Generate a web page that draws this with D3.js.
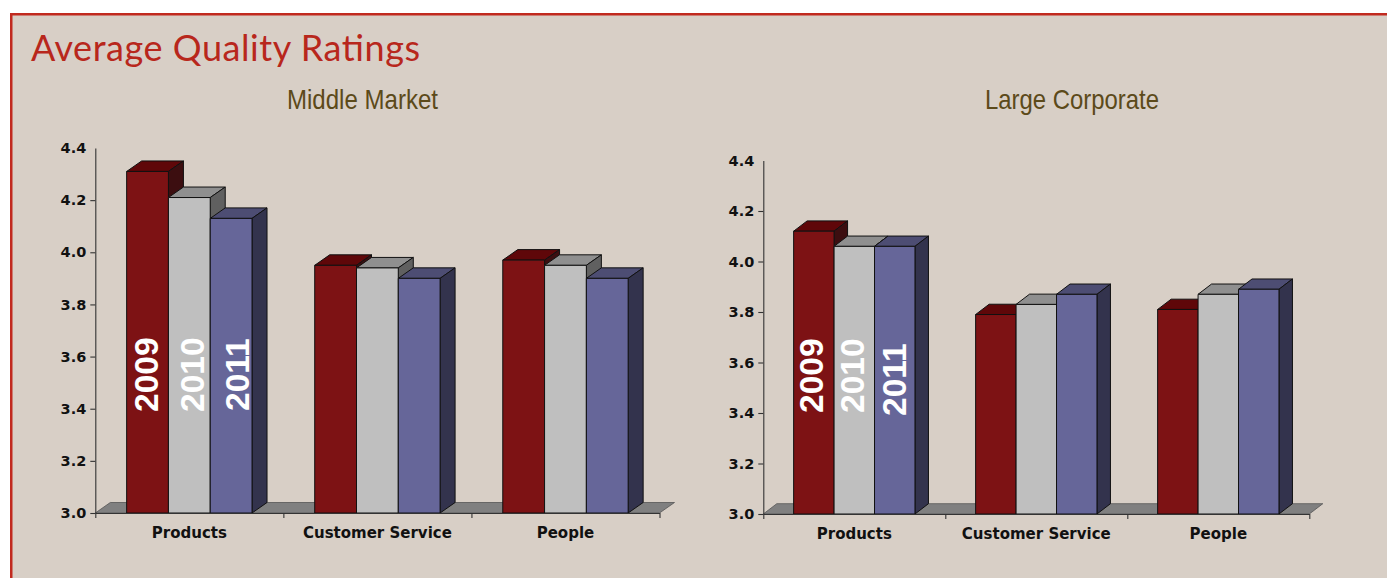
<!DOCTYPE html>
<html>
<head>
<meta charset="utf-8">
<title>Average Quality Ratings</title>
<script src="https://cdn.jsdelivr.net/npm/d3@7/dist/d3.min.js"></script>
<style>
  html, body { margin: 0; padding: 0; background: #fff; }
  svg { display: block; }
</style>
</head>
<body>
<svg id="chart" width="1387" height="578"></svg>
<script>
// Ratings by customer category and survey year
const categories = ["Products", "Customer Service", "People"];
const years = ["2009", "2010", "2011"];
const middleMarket = [
  [4.31, 4.21, 4.13],
  [3.95, 3.94, 3.90],
  [3.97, 3.95, 3.90]
];
const largeCorporate = [
  [4.12, 4.06, 4.06],
  [3.79, 3.83, 3.87],
  [3.81, 3.87, 3.89]
];
const yTicks = [3.0, 3.2, 3.4, 3.6, 3.8, 4.0, 4.2, 4.4];

// Front, top and side shades per year
const palette = [
  { front: "#7d1214", top: "#5f0709", side: "#3c0e10" },
  { front: "#bfbfbf", top: "#8f8f8f", side: "#606060" },
  { front: "#666699", top: "#4d4d73", side: "#33334d" }
];

const svg = d3.select("#chart");

// Panel background with a red rule along the top and left
svg.append("rect").attr("x", 11).attr("y", 14).attr("width", 1376).attr("height", 564)
  .attr("fill", "#d8cfc6");
svg.append("path").attr("d", "M11.25,578V14.25H1387")
  .attr("fill", "none").attr("stroke", "#c12a1f").attr("stroke-width", 2.5);

svg.append("text").attr("x", 31).attr("y", 61)
  .attr("font-family", "Lato, sans-serif").attr("font-size", 36)
  .attr("textLength", 389).attr("lengthAdjust", "spacing").attr("fill", "#b8271c")
  .text("Average Quality Ratings");

function drawPanel(o) {
  const g = svg.append("g");

  // Condensed subtitle
  g.append("text").attr("x", o.titleX).attr("y", 109)
    .attr("text-anchor", "middle")
    .attr("font-family", "'Liberation Sans', sans-serif")
    .attr("font-size", 28).attr("fill", "#5c4a1a")
    .attr("textLength", o.titleWidth).attr("lengthAdjust", "spacingAndGlyphs")
    .text(o.title);

  const y = d3.scaleLinear().domain([3, 4.4]).range([o.bottom, o.top]);
  const x = d3.scaleBand().domain(categories).range([o.left, o.right]);
  const inner = d3.scaleBand().domain(d3.range(years.length))
    .range([x.bandwidth() / 6, x.bandwidth() * 5 / 6]);
  const w = inner.bandwidth();
  const { dx, dy } = o;

  // Floor slab behind the bars
  g.append("path")
    .attr("d", d3.line()([[o.left, o.bottom], [o.left + dx, o.bottom - dy],
      [o.right + dx, o.bottom - dy], [o.right, o.bottom]]) + "Z")
    .attr("fill", "#808080").attr("stroke", "#555").attr("stroke-width", 0.8);

  // Bars: sides and tops first, then the front, so each year overlaps the previous one
  const bars = o.values.flatMap((row, c) =>
    row.map((v, s) => ({ c, s, v })));
  const bar = g.selectAll("g.bar").data(bars).join("g").attr("class", "bar")
    .attr("stroke", "#111").attr("stroke-width", 1).attr("stroke-linejoin", "round");
  const bx = d => x(categories[d.c]) + inner(d.s);

  bar.append("path")
    .attr("fill", d => palette[d.s].top)
    .attr("d", d => d3.line()([[bx(d), y(d.v)], [bx(d) + dx, y(d.v) - dy],
      [bx(d) + w + dx, y(d.v) - dy], [bx(d) + w, y(d.v)]]) + "Z");
  bar.append("path")
    .attr("fill", d => palette[d.s].side)
    .attr("d", d => d3.line()([[bx(d) + w, y(d.v)], [bx(d) + w + dx, y(d.v) - dy],
      [bx(d) + w + dx, y(3) - dy], [bx(d) + w, y(3)]]) + "Z");
  bar.append("rect")
    .attr("fill", d => palette[d.s].front)
    .attr("x", bx).attr("y", d => y(d.v))
    .attr("width", w).attr("height", d => y(3) - y(d.v));

  // Value axis; the topmost value has a label but no tick mark
  const yAxis = g.append("g").attr("transform", `translate(${o.left},0)`)
    .call(d3.axisLeft(y).tickValues(yTicks).tickFormat(d3.format(".1f"))
      .tickSize(5).tickPadding(4).tickSizeOuter(0));
  yAxis.selectAll(".tick").filter(d => d === 4.4).select("line").remove();
  yAxis.selectAll("path,line").attr("stroke", "#333").attr("stroke-width", 1.1);
  yAxis.selectAll("text").attr("font-family", "'DejaVu Sans', sans-serif")
    .attr("font-weight", "bold").attr("font-size", 14.5).attr("fill", "#111");

  // Category axis: tick marks on the band edges, labels in the band centres
  const edge = d3.scaleLinear().domain([0, categories.length]).range([o.left, o.right]);
  const edgeAxis = g.append("g").attr("transform", `translate(0,${o.bottom})`)
    .call(d3.axisBottom(edge).ticks(categories.length).tickFormat("").tickSize(5).tickSizeOuter(0));
  edgeAxis.selectAll("path,line").attr("stroke", "#333").attr("stroke-width", 1.1);
  const labelAxis = g.append("g").attr("transform", `translate(0,${o.bottom})`)
    .call(d3.axisBottom(x).tickSize(0).tickPadding(14));
  labelAxis.select("path").remove();
  labelAxis.selectAll("text").attr("font-family", "'DejaVu Sans', sans-serif")
    .attr("font-weight", "bold").attr("font-size", 15).attr("fill", "#111");

  // Year captions set vertically inside the first group of bars
  g.selectAll("text.year").data(years).join("text").attr("class", "year")
    .attr("transform", (d, i) =>
      `translate(${x(categories[0]) + inner(i) + w + o.yearInset[i]},${o.yearBase[i]}) rotate(-90)`)
    .attr("font-family", "'Liberation Sans', Arial, sans-serif")
    .attr("font-weight", "bold").attr("font-size", 33.5).attr("fill", "#fff")
    .text(d => d);
}

drawPanel({
  title: "Middle Market", titleX: 362.5, titleWidth: 151, values: middleMarket,
  left: 95.3, right: 659.5, top: 148, bottom: 513, dx: 15, dy: 10.5,
  yearInset: [-10, -6, -3], yearBase: [412, 412, 411]
});
drawPanel({
  title: "Large Corporate", titleX: 1072, titleWidth: 174, values: largeCorporate,
  left: 763.3, right: 1309.3, top: 160.5, bottom: 514, dx: 13.5, dy: 10.3,
  yearInset: [-11, -11, -9], yearBase: [413, 413, 416]
});
</script>
</body>
</html>
